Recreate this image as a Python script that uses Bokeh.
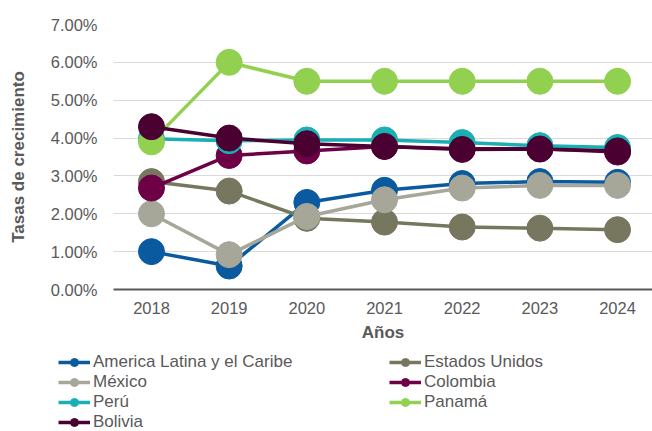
from bokeh.plotting import figure
from bokeh.layouts import column
from bokeh.models import (Range1d, FixedTicker, PrintfTickFormatter, Legend, LegendItem)
from bokeh.embed import file_html
from bokeh.resources import INLINE

years = [2018, 2019, 2020, 2021, 2022, 2023, 2024]
y_ticks = [0, 1, 2, 3, 4, 5, 6, 7]

series_names = ["America Latina y el Caribe", "Estados Unidos", "México",
                "Colombia", "Perú", "Panamá", "Bolivia"]
alc = [1.00, 0.62, 2.30, 2.62, 2.80, 2.85, 2.83]
eeuu = [2.85, 2.60, 1.88, 1.78, 1.65, 1.62, 1.58]
mexico = [2.00, 0.92, 1.93, 2.37, 2.68, 2.75, 2.75]
colombia = [2.68, 3.54, 3.66, 3.78, 3.72, 3.72, 3.63]
peru = [3.98, 3.93, 3.95, 3.95, 3.88, 3.80, 3.75]
panama = [3.90, 6.00, 5.50, 5.50, 5.50, 5.50, 5.50]
bolivia = [4.30, 4.00, 3.85, 3.78, 3.70, 3.71, 3.66]
colors = ["#0A5AA0", "#77775F", "#A6A699", "#6E0046", "#1AAFB5", "#92D050", "#4A0030"]

all_series = [alc, eeuu, mexico, colombia, peru, panama, bolivia]

FONT = "Liberation Sans"
TXT = "#595959"
LW = 3.5

p = figure(width=652, height=350, output_backend="svg", toolbar_location=None,
           x_range=Range1d(2017.511, 2024.45), y_range=Range1d(0, 7),
           min_border_left=113, min_border_right=0, min_border_top=24,
           min_border_bottom=61)
p.outline_line_color = None
p.background_fill_color = "white"

# grid
p.xgrid.grid_line_color = None
p.ygrid.grid_line_color = "#D9D9D9"
p.ygrid.grid_line_width = 1

# y axis
p.yaxis.ticker = FixedTicker(ticks=y_ticks)
p.yaxis.formatter = PrintfTickFormatter(format="%.2f%%")
p.yaxis.axis_line_color = None
p.yaxis.major_tick_line_color = None
p.yaxis.minor_tick_line_color = None
p.yaxis.major_tick_out = 0
p.yaxis.major_label_standoff = 16
p.yaxis.major_label_text_font = FONT
p.yaxis.major_label_text_font_size = "16.5px"
p.yaxis.major_label_text_color = TXT
p.yaxis.axis_label = "Tasas de crecimiento"
p.yaxis.axis_label_text_font = FONT
p.yaxis.axis_label_text_font_size = "17px"
p.yaxis.axis_label_text_font_style = "bold"
p.yaxis.axis_label_text_color = TXT
p.yaxis.axis_label_standoff = 20

# x axis
p.xaxis.ticker = FixedTicker(ticks=years)
p.xaxis.axis_line_color = "#595959"
p.xaxis.axis_line_width = 2
p.xaxis.major_tick_line_color = None
p.xaxis.minor_tick_line_color = None
p.xaxis.major_tick_out = 0
p.xaxis.major_label_standoff = 12
p.xaxis.major_label_text_font = FONT
p.xaxis.major_label_text_font_size = "16.5px"
p.xaxis.major_label_text_color = TXT
p.xaxis.axis_label = "Años"
p.xaxis.axis_label_text_font = FONT
p.xaxis.axis_label_text_font_size = "17px"
p.xaxis.axis_label_text_font_style = "bold"
p.xaxis.axis_label_text_color = TXT
p.xaxis.axis_label_standoff = 6

for name, vals, col in zip(series_names, all_series, colors):
    p.line(years, vals, line_color=col, line_width=LW)
    p.scatter(years, vals, size=26, fill_color=col, line_color=col, marker="circle")

# legend strip below the chart (its ranges keep the series out of view;
# the renderers only supply the legend swatches)
p2 = figure(width=652, height=81, output_backend="svg", toolbar_location=None,
            x_axis_type=None, y_axis_type=None, min_border=0,
            x_range=Range1d(0, 1), y_range=Range1d(0, 1))
p2.outline_line_color = None
p2.grid.visible = False
if "frame_align" in p2.properties():
    p2.frame_align = False
    p.frame_align = False

items = []
for name, vals, col in zip(series_names, all_series, colors):
    lr = p2.line(years, vals, line_color=col, line_width=LW)
    sr = p2.scatter(years, vals, size=26, fill_color=col, line_color=col, marker="circle")
    items.append(LegendItem(label=name, renderers=[lr, sr]))

legend = Legend(items=items, orientation="horizontal", ncols=2,
                location=(58, -1), padding=0, margin=0, spacing=0,
                glyph_width=32, glyph_height=20, label_height=20,
                label_width=296, label_standoff=3, label_text_font=FONT,
                label_text_font_size="17px", label_text_color=TXT,
                border_line_color=None, background_fill_alpha=0)
p2.add_layout(legend, "center")

layout = column(p, p2, spacing=0)
open("out.html", "w").write(file_html(layout, INLINE))
